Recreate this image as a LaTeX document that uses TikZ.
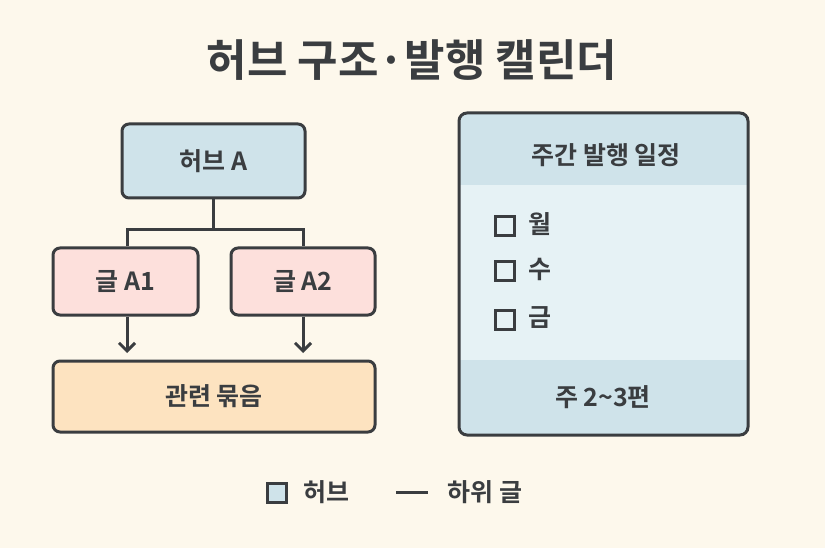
\documentclass[tikz,border=0pt]{standalone}
\usetikzlibrary{arrows.meta}
\usepackage{fontspec}
\setmainfont{Noto Sans CJK KR}[BoldFont={Noto Sans CJK KR Bold}]
\definecolor{bg}{HTML}{FDF8EC}
\definecolor{ink}{HTML}{3A3D40}
\definecolor{hub}{HTML}{CFE3EA}
\definecolor{post}{HTML}{FDE0DC}
\definecolor{bund}{HTML}{FDE3C0}
\definecolor{panel}{HTML}{E6F2F5}
\begin{document}
\begin{tikzpicture}[x=1pt,y=-1pt,
  box/.style={draw=ink,line width=3pt,rounded corners=7pt,font=\bfseries\fontsize{25}{30}\selectfont,text=ink},
  conn/.style={draw=ink,line width=3pt},
  lbl/.style={font=\bfseries\fontsize{25}{30}\selectfont,text=ink},
  cb/.style={draw=ink,line width=2.6pt,minimum size=19pt,inner sep=0pt}]
\useasboundingbox[fill=bg] (0,0) rectangle (825,548);
\node[font=\bfseries\fontsize{44}{50}\selectfont,text=ink] (title) at (412,60) {허브 구조·발행 캘린더};
\node[box,fill=hub,minimum width=183pt,minimum height=74pt] (hubA) at (213.5,161) {허브 A};
\node[box,fill=post,minimum width=145pt,minimum height=67pt] (a1) at (125.5,281.5) {글 A1};
\node[box,fill=post,minimum width=144pt,minimum height=67pt] (a2) at (303,281.5) {글 A2};
\node[box,fill=bund,minimum width=322pt,minimum height=71pt] (bd) at (214,396.5) {관련 묶음};
\coordinate (j) at (213.5,230);
\draw[conn] (hubA.south) -- (j);
\draw[conn] (a1.north -| 127,0) |- (j) -| (a2.north -| 303,0);
\coordinate (e1) at (127,353);
\coordinate (e2) at (303,353);
\draw[conn,-{Straight Barb[length=8pt,width=16pt]}] (a1.south -| e1) -- (e1);
\draw[conn,-{Straight Barb[length=8pt,width=16pt]}] (a2.south -| e2) -- (e2);
% panel
\begin{scope}
\clip[rounded corners=8pt] (459,113) rectangle (748,435);
\fill[panel] (459,113) rectangle (748,435);
\fill[hub] (459,113) rectangle (748,185);
\fill[hub] (459,360) rectangle (748,435);
\end{scope}
\node[draw=ink,line width=3pt,rounded corners=8pt,minimum width=289pt,minimum height=322pt] (panel) at (603.5,274) {};
\node[lbl] (ph) at (606,155) {주간 발행 일정};
\node[lbl] (pf) at (603,397) {주 2\textasciitilde3편};
\node[cb] (c1) at (505,226) {}; \node[lbl,anchor=west] (t1) at (525,224) {월};
\node[cb] (c2) at (505,271) {}; \node[lbl,anchor=west] (t2) at (525,269) {수};
\node[cb] (c3) at (505,320) {}; \node[lbl,anchor=west] (t3) at (525,318) {금};
% legend
\node[cb,fill=hub] (lg1) at (277,493) {};
\node[lbl,anchor=west] (lt1) at (300,492) {허브};
\coordinate (d1) at (396,492); \coordinate (d2) at (428,492);
\draw[conn] (d1) -- (d2);
\node[lbl,anchor=west] (lt2) at (444,492) {하위 글};
\end{tikzpicture}
\end{document}
